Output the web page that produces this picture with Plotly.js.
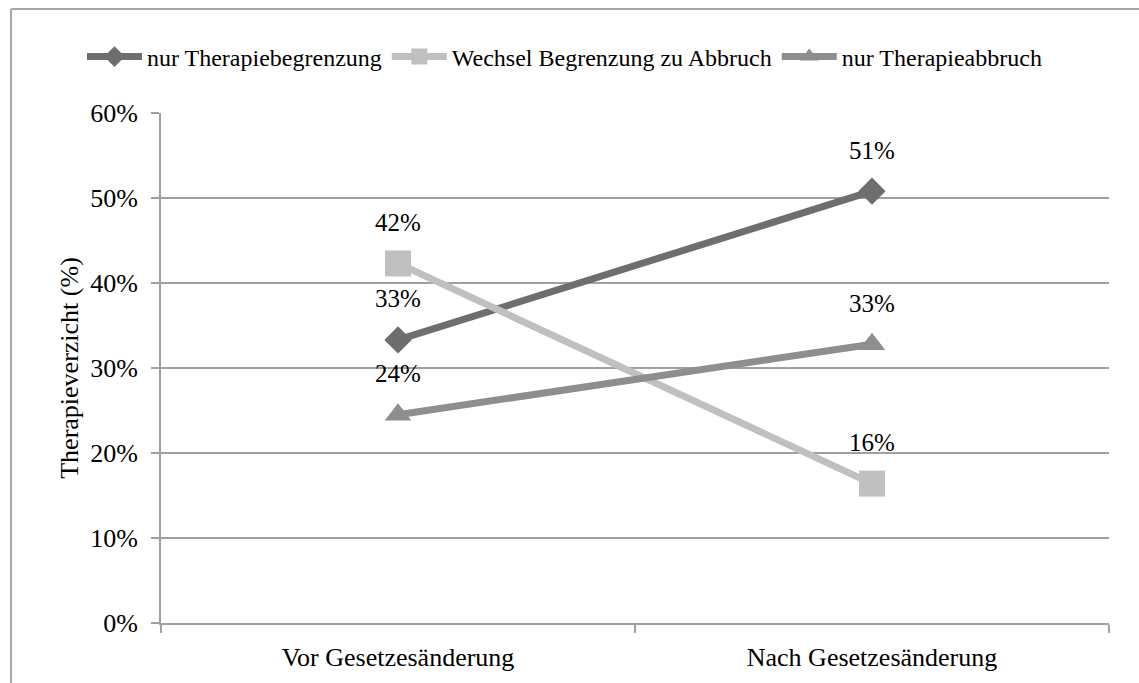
<!DOCTYPE html>
<html>
<head>
<meta charset="utf-8">
<script src="https://cdn.plot.ly/plotly-3.0.1.min.js"></script>
<style>
  html, body { margin: 0; padding: 0; background: #fff; overflow: hidden; font-family: "Liberation Serif", serif; }
  #chart { width: 1139px; height: 683px; }
  #note { position: absolute; left: 0; top: 0; font-size: 1px; color: #fff; }
</style>
</head>
<body>
<div id="chart"></div>
<div id="note"></div>
<script>
const categories = ["Vor Gesetzesänderung", "Nach Gesetzesänderung"];
const seriesNames = ["nur Therapiebegrenzung", "Wechsel Begrenzung zu Abbruch", "nur Therapieabbruch"];
const begrenzung = [0.333, 0.508];
const wechsel = [0.423, 0.164];
const abbruch = [0.245, 0.328];
const labelsBegrenzung = ["33%", "51%"];
const labelsWechsel = ["42%", "16%"];
const labelsAbbruch = ["24%", "33%"];

const FONT = "Liberation Serif";
const colors = ["#6e6e6e", "#c0c0c0", "#8e8e8e"];
const symbols = ["diamond", "square", "triangle-up"];
const msizes = [21, 26, 23];
const allValues = [begrenzung, wechsel, abbruch];
const allLabels = [labelsBegrenzung, labelsWechsel, labelsAbbruch];

const traces = allValues.map((vals, i) => ({
  type: "scatter",
  mode: "lines+markers",
  name: seriesNames[i],
  x: categories,
  y: vals,
  line: { color: colors[i], width: 7 },
  marker: { color: colors[i], symbol: symbols[i], size: msizes[i] }
}));

const annotations = [];
allValues.forEach((vals, i) => {
  vals.forEach((v, j) => {
    annotations.push({
      x: categories[j], y: v, xref: "x", yref: "y",
      text: allLabels[i][j], showarrow: false,
      yshift: 41, yanchor: "middle", xanchor: "center",
      font: { family: FONT, size: 25, color: "#000" }
    });
  });
});

const W = 1139, H = 683, L = 161, R = 30, T = 113, B = 60;
const pw = W - L - R, ph = H - T - B;
const fx = (px) => (px - L) / pw;
const fy = (py) => (H - B - py) / ph;

const layout = {
  width: W, height: H,
  margin: { l: L, r: R, t: T, b: B },
  font: { family: FONT, size: 26, color: "#000" },
  legend: {
    orientation: "h",
    x: fx(82), xanchor: "left",
    y: fy(57), yanchor: "middle",
    font: { family: FONT, size: 24, color: "#000" },
    itemwidth: 55
  },
  xaxis: {
    type: "category",
    range: [-0.5, 1.5],
    showgrid: false,
    showline: true, linecolor: "#a0a0a0", linewidth: 2,
    ticks: "outside", tickson: "boundaries", ticklen: 8, tickcolor: "#a0a0a0", tickwidth: 2,
    ticklabelstandoff: 10,
    zeroline: false
  },
  yaxis: {
    range: [0, 0.6],
    dtick: 0.1,
    tickformat: ".0%",
    showgrid: true, gridcolor: "#a0a0a0", gridwidth: 2,
    showline: true, linecolor: "#a0a0a0", linewidth: 2,
    ticks: "outside", ticklen: 8, tickcolor: "#a0a0a0", tickwidth: 2,
    ticklabelstandoff: 8,
    zeroline: false,
    title: { text: "Therapieverzicht (%)", font: { family: FONT, size: 26, color: "#000" }, standoff: 4 }
  },
  shapes: [
    { type: "line", xref: "paper", yref: "paper", x0: fx(11), x1: fx(W + 5), y0: fy(9), y1: fy(9),
      line: { color: "#a6a6a6", width: 2 } },
    { type: "line", xref: "paper", yref: "paper", x0: fx(11), x1: fx(11), y0: fy(9), y1: fy(H + 5),
      line: { color: "#a6a6a6", width: 2 } }
  ],
  annotations: annotations
};

function refreshText() {
  document.querySelectorAll("#chart text").forEach(t => {
    t.style.fontFamily = '"Liberation Serif", "Times New Roman", serif';
  });
  document.getElementById("chart").style.transform = "translateZ(0)";
  void document.body.offsetHeight;
}

Plotly.newPlot("chart", traces, layout, { displayModeBar: false, staticPlot: true }).then(() => {
  refreshText();
  requestAnimationFrame(refreshText);
  setTimeout(refreshText, 50);
});
</script>
</body>
</html>
